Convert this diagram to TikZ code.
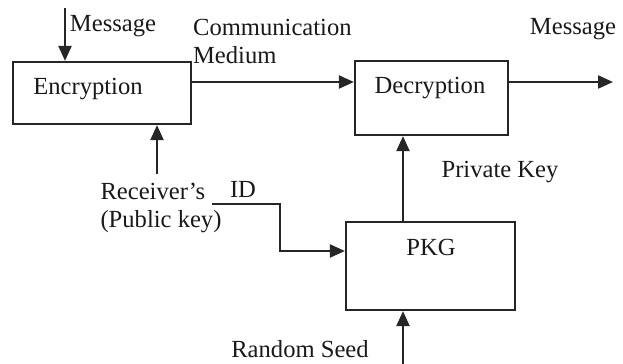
\documentclass[tikz,border=0pt]{standalone}
\usepackage{fontspec}
\setmainfont{Liberation Serif}
\usetikzlibrary{arrows.meta}

\def\unit{0.5pt}

\begin{document}
\begin{tikzpicture}[x=\unit, y=-\unit,
    line width=1.1pt, draw=black!85,
    box/.style={draw, rectangle, inner sep=0pt},
    txt/.style={anchor=center, inner sep=0pt, font=\fontsize{12.3}{14}\selectfont, text=black!90},
    arr/.style={-{Triangle[length=7.5pt,width=6.5pt]}}]
      \useasboundingbox (0,0) rectangle (623,364);
      \node[box, minimum width=89pt, minimum height=31pt] (enc) at (102,93) {};
      \node[box, minimum width=76.5pt, minimum height=37pt] (dec) at (431.5,98) {};
      \node[box, minimum width=84.5pt, minimum height=44pt] (pkg) at (430.5,266) {};
      \node[txt] (enclbl) at (88,89) {Encryption};
      \node[txt] (declbl) at (430,88) {Decryption};
      \node[txt] (pkglbl) at (431,247) {PKG};
      \node[txt] (msgin) at (113,26) {Message};
      \node[txt, anchor=west, align=left] (medium) at (192,41) {Communication\\Medium};
      \node[txt] (msgout) at (573,29) {Message};
      \node[txt] (privkey) at (500,172) {Private Key};
      \node[txt, align=left] (rcv) at (161,208) {Receiver's\\(Public key)};
      \node[txt] (id) at (243,189) {ID};
      \node[txt] (seed) at (300,349) {Random Seed};
      \coordinate (msgstart) at (65,8);
      \coordinate (msgend) at (613,82);
      \coordinate (idstart) at (212,204);
      \coordinate (idturn) at (280,251);
      \coordinate (seedstart) at (403,366);
      \draw[arr] (msgstart) -- (msgstart |- enc.north);
      \draw[arr] ([yshift=5.5pt]enc.east) -- ([yshift=5.5pt]enc.east -| dec.west);
      \draw[arr] ([yshift=5.5pt]enc.east -| dec.east) -- (msgend);
      \draw[arr] ([xshift=-2pt,yshift=4pt]rcv.north) -- ([xshift=-2pt]rcv.north |- enc.south);
      \draw[arr] (idstart) -| (idturn) -- (idturn -| pkg.west);
      \draw[arr] ([xshift=-13.75pt]pkg.north) -- ([xshift=-13.75pt]pkg.north |- dec.south);
      \draw[arr] (seedstart) -- (seedstart |- pkg.south);
    \end{tikzpicture}
\end{document}
